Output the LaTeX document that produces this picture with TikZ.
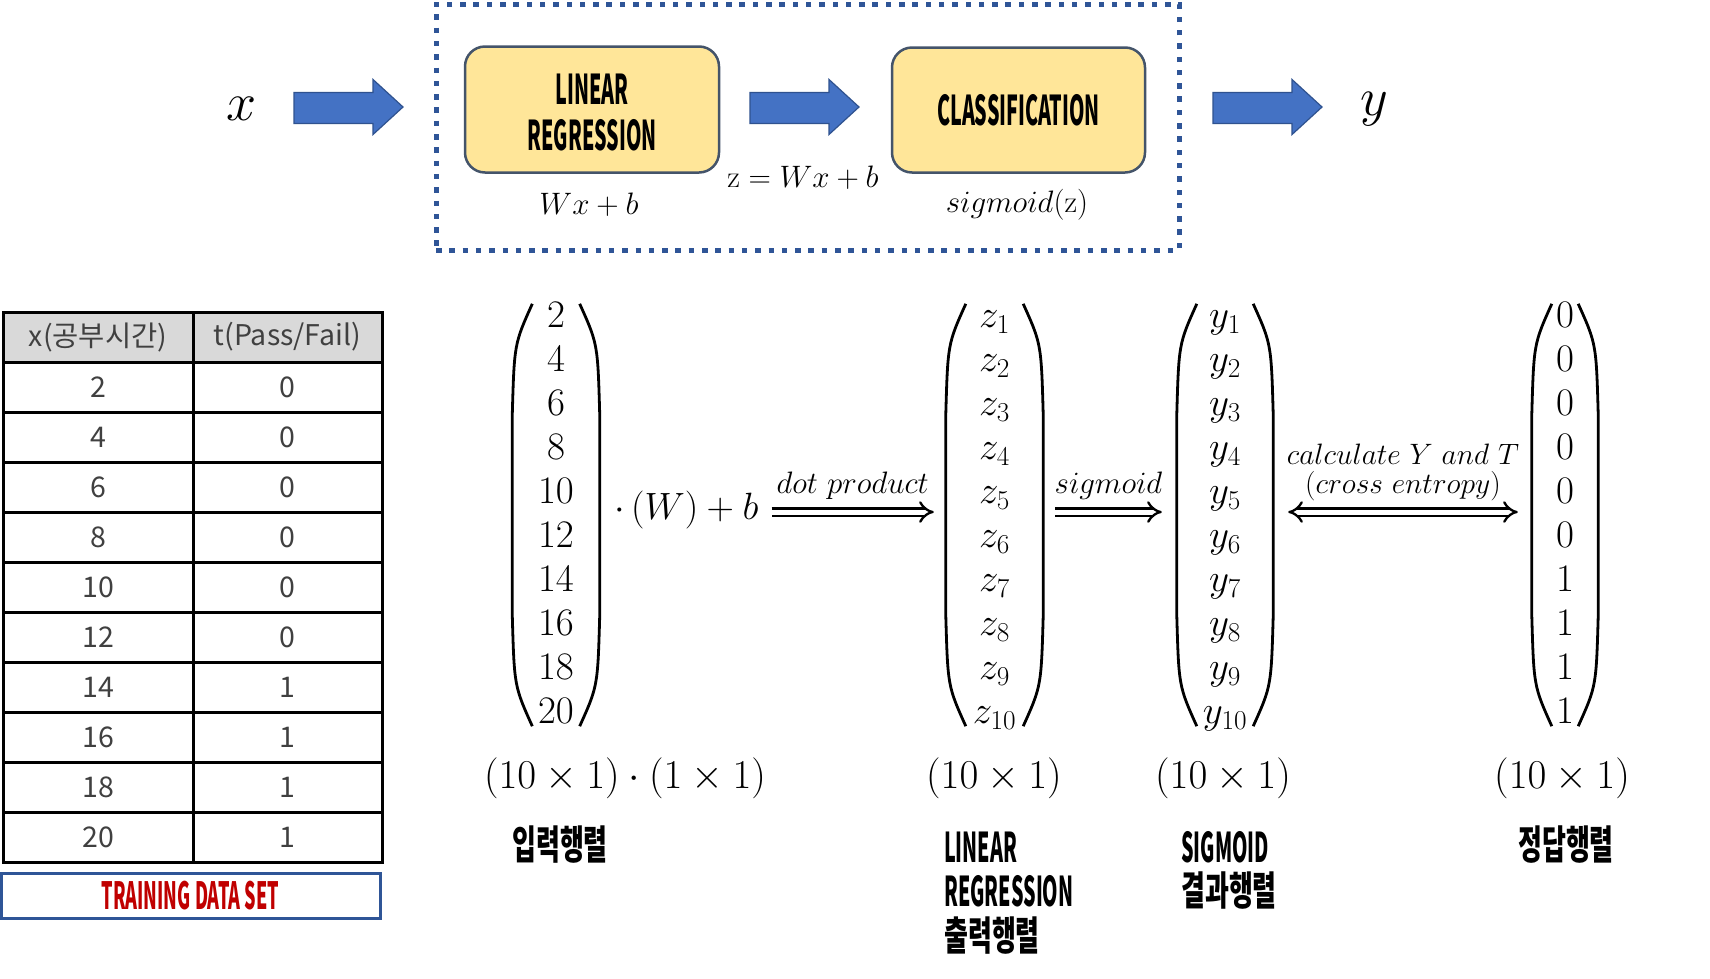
\RequirePackage{fix-cm}
\documentclass[tikz,border=0pt]{standalone}
\usepackage{fontspec}
\usetikzlibrary{arrows.meta,calc}
\newfontfamily\krsans{Noto Sans CJK KR}
\newfontfamily\condlat[FakeStretch=0.48]{Noto Sans CJK KR}
\newfontfamily\condkr[FakeStretch=0.65]{Noto Sans CJK KR}
\definecolor{arrowblue}{HTML}{4472C4}
\definecolor{arrowedge}{HTML}{2F528F}
\definecolor{boxyellow}{HTML}{FFE699}
\definecolor{boxedge}{HTML}{44546A}
\definecolor{dotblue}{HTML}{2F5597}
\definecolor{tabgray}{HTML}{D9D9D9}
\definecolor{tabtext}{HTML}{404040}
\definecolor{trainred}{HTML}{C00000}
\definecolor{trainblue}{HTML}{2F5597}
\tikzset{
  procbox/.style={draw=boxedge, line width=2.5pt, fill=boxyellow, rounded corners=20pt, align=center, inner sep=0pt, font=\condlat\bfseries\fontsize{41}{46}\selectfont},
  boxtext/.style={align=center, inner sep=0pt, font=\condlat\bfseries\fontsize{41}{46}\selectfont},
  blockarrow/.style={fill=arrowblue, draw=arrowedge, line width=1.2pt, line join=miter},
  dotframe/.style={draw=dotblue, line width=5pt, dash pattern=on 5.5pt off 7.8pt, inner sep=0pt},
  biglbl/.style={inner sep=0pt, font=\fontsize{54}{60}\selectfont},
  toplbl/.style={inner sep=0pt, font=\fontsize{31}{34}\selectfont},
  matnode/.style={inner sep=0pt, minimum height=440pt, font=\fontsize{39}{44}\selectfont},
  parenline/.style={line width=2.8pt},
  mathmid/.style={inner sep=0pt, font=\fontsize{38}{44}\selectfont},
  dimlbl/.style={inner sep=0pt, font=\fontsize{41}{44}\selectfont},
  arrlbl/.style={inner sep=0pt, font=\fontsize{31}{30}\selectfont, align=center},
  celbls/.style={inner sep=0pt, font=\fontsize{29.5}{29}\selectfont, align=center},
  dblline/.style={double, double distance=5pt, line width=2.3pt},
  condlbl/.style={inner sep=0pt, font=\condlat\bfseries\fontsize{41}{46}\selectfont},
  krlbl/.style={inner sep=0pt, font=\condkr\bfseries\fontsize{40}{46}\selectfont},
  tabline/.style={line width=3pt},
  tabtxt/.style={inner sep=0pt, text=tabtext, font=\krsans\fontsize{28.5}{30}\selectfont},
  trainbox/.style={draw=trainblue, line width=3pt, minimum width=379pt, minimum height=45pt, inner sep=0pt, text=trainred, font=\condlat\bfseries\fontsize{37.5}{40}\selectfont},
}
\newcommand\matparens[3]{%
  \draw[parenline] ($(#1.north west)+(20,#2)$) .. controls ($(#1.north west)+(2,#2+40)$) .. ($(#1.north west)+(0,#2+110)$) -- ($(#1.south west)+(0,-#3-110)$) .. controls ($(#1.south west)+(2,-#3-40)$) .. ($(#1.south west)+(20,-#3)$);
  \draw[parenline] ($(#1.north east)+(-20,#2)$) .. controls ($(#1.north east)+(-2,#2+40)$) .. ($(#1.north east)+(0,#2+110)$) -- ($(#1.south east)+(0,-#3-110)$) .. controls ($(#1.south east)+(-2,-#3-40)$) .. ($(#1.south east)+(-20,-#3)$);
}
\begin{document}
\begin{tikzpicture}[x=1pt,y=-1pt]
\useasboundingbox (0,0) rectangle (1710,978);
\fill[white] (0,0) rectangle (1710,978);

% ---------- top pipeline ----------
\node[dotframe, minimum width=743pt, minimum height=246pt] (frame) at (807.5,127) {};
\node[procbox, minimum width=254pt, minimum height=126pt] (lr) at (592,109.5) {};
\node[boxtext] (lrtxt) at (592,113) {LINEAR\\REGRESSION};
\node[procbox, minimum width=253pt, minimum height=125pt] (cls) at (1018.5,110) {CLASSIFICATION};
\node[biglbl] (xin) at (242,109) {$x$};
\node[biglbl] (yout) at (1374,109) {$y$};
\foreach \ax in {294,750,1213} {
  \draw[blockarrow] (\ax,92.5) -- ++(79,0) -- ++(0,-13) -- ++(30,27.5) -- ++(-30,27.5) -- ++(0,-11) -- ++(-79,0) -- cycle;
}
\node[toplbl] (lrf) at (589,205) {$Wx+b$};
\node[toplbl] (zf) at (803,178) {$\mathrm{z}=Wx+b$};
\node[toplbl] (clsf) at (1017,205) {$sigmoid(\mathrm{z})$};

% ---------- table ----------
\fill[tabgray] (3,312) rectangle (382,362);
\foreach \k in {1,...,10} { \draw[tabline] (3,{312+50*\k}) -- (382,{312+50*\k}); }
\draw[tabline] (193,312) -- (193,862);
\draw[tabline] (3,312) rectangle (382,862);
\node[tabtxt] (h1) at (98,337) {x(공부시간)};
\node[tabtxt] (h2) at (287.5,337) {t(Pass/Fail)};
\foreach \xv/\tv [count=\i] in {2/0,4/0,6/0,8/0,10/0,12/0,14/1,16/1,18/1,20/1} {
  \node[tabtxt] (x\i) at (98,{387+50*(\i-1)}) {\xv};
  \node[tabtxt] (t\i) at (287.5,{387+50*(\i-1)}) {\tv};
}
\node[trainbox] (train) at (190.5,895.5) {TRAINING DATA SET};

% ---------- matrices ----------
\node[matnode, minimum width=87pt] (m1) at (556,517) {$\begin{array}{c}2\\4\\6\\8\\10\\12\\14\\16\\18\\20\end{array}$};
\node[matnode, minimum width=97pt] (mz) at (994.5,517) {$\begin{array}{c}z_1\\z_2\\z_3\\z_4\\z_5\\z_6\\z_7\\z_8\\z_9\\z_{10}\end{array}$};
\node[matnode, minimum width=96pt] (my) at (1225,517) {$\begin{array}{c}y_1\\y_2\\y_3\\y_4\\y_5\\y_6\\y_7\\y_8\\y_9\\y_{10}\end{array}$};
\node[matnode, minimum width=66pt] (mt) at (1565,517) {$\begin{array}{c}0\\0\\0\\0\\0\\0\\1\\1\\1\\1\end{array}$};
\matparens{m1}{7}{11}
\matparens{mz}{7}{11}
\matparens{my}{7}{11}
\matparens{mt}{7}{11}

\node[mathmid, anchor=west] (expr) at (614,510) {$\cdot\,(W)+b$};
\draw[dblline, -{Implies}] ($(expr.east)+(13,2)$) -- ($(mz.west |- expr.east)+(-12,2)$)
  node[arrlbl, midway, yshift=26pt] (dotlbl) {$dot\ product$};
\draw[dblline, -{Implies}] ($(mz.east)+(12,-5)$) -- ($(my.west)+(-15,-5)$)
  node[arrlbl, midway, yshift=26pt] (siglbl) {$sigmoid$};
\draw[dblline, {Implies}-{Implies}] ($(my.east)+(15,-5)$) -- ($(mt.west)+(-14,-5)$)
  node[celbls, midway, yshift=40pt] (celbl) {$calculate\ Y\ and\ T$\\$(cross\ entropy)$};

% ---------- dimensions ----------
\node[dimlbl] (d1) at (625,778) {$(10\times1)\cdot(1\times1)$};
\node[dimlbl] (d2) at (994,778) {$(10\times1)$};
\node[dimlbl] (d3) at (1223,778) {$(10\times1)$};
\node[dimlbl] (d4) at (1562,778) {$(10\times1)$};

% ---------- bottom labels ----------
\node[krlbl] (in1) at (560,845) {입력행렬};
\node[condlbl, anchor=west] (lo1) at (944,847) {LINEAR};
\node[condlbl, anchor=west] (lo2) at (944,891) {REGRESSION};
\node[krlbl, anchor=west] (lo3) at (944,936) {출력행렬};
\node[condlbl, anchor=west] (so1) at (1181,847) {SIGMOID};
\node[krlbl, anchor=west] (so2) at (1181,891) {결과행렬};
\node[krlbl] (an1) at (1566,845) {정답행렬};
\end{tikzpicture}
\end{document}
